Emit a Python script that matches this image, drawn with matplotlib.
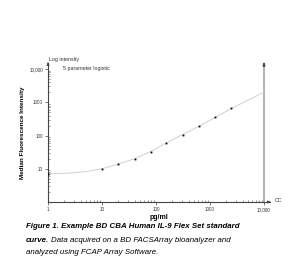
import numpy as np
import matplotlib.pyplot as plt
from matplotlib.ticker import FixedLocator, LogLocator, NullFormatter

# standards (pg/ml) and median fluorescence
conc = [1, 10, 20, 40, 80, 156, 312, 625, 1250, 2500]
mfi = [7.0, 10.0, 14.0, 20.0, 33.0, 61.0, 107.0, 188.0, 350.0, 660.0]

# 5PL fit curve, read at a few positions
curve_x = [1, 2, 3, 5, 10, 20, 40, 80, 156, 312, 625, 1250, 2500, 5000, 10000]
curve_y = [7.2, 7.3, 7.6, 8.2, 10.0, 13.8, 20.0, 33.0, 60.0, 107.0, 190.0, 350.0, 650.0, 1150.0, 2000.0]

ytick_vals = [10, 100, 1000, 10000]
ytick_labels = ["10", "100", "1000", "10,000"]
xtick_vals = [1, 10, 100, 1000, 10000]
xtick_labels = ["1", "10", "100", "1000", "10,000"]

plt.rcParams['font.family'] = ['Liberation Sans', 'DejaVu Sans']

fig = plt.figure(figsize=(2.9, 2.65), dpi=100)
ax = fig.add_axes([48/290, 1-202/265, (270-48)/290, (202-63)/265])

x_top = 10**(4 + 6/54)
y_top = 10**(4 + 6/33)
ax.set_xscale("log")
ax.set_yscale("log")
ax.set_xlim(1, x_top)
ax.set_ylim(1, y_top)

ax.plot(curve_x, curve_y, color="#d0d0d0", lw=0.7, zorder=2)
ax.plot(conc, mfi, "s", color="black", ms=1.3, mew=0, zorder=3)

# right gray border at 10,000
ax.plot([10000, 10000], [1, y_top*0.93], color="#b4b4b4", lw=1.5, zorder=1, clip_on=False)
ax.annotate("", xy=(10000, y_top), xytext=(10000, y_top*0.8),
            arrowprops=dict(arrowstyle="-|>", color="#333333", lw=0.6,
                            mutation_scale=4), annotation_clip=False)

for s in ["top", "right"]:
    ax.spines[s].set_visible(False)
for s in ["left", "bottom"]:
    ax.spines[s].set_color("#444444")
    ax.spines[s].set_linewidth(0.8)

# axis arrows
ax.annotate("", xy=(1, y_top*1.05), xytext=(1, y_top*0.8),
            arrowprops=dict(arrowstyle="-|>", color="#444444", lw=0.6,
                            mutation_scale=4), annotation_clip=False)
ax.annotate("", xy=(x_top*1.03, 1), xytext=(x_top*0.85, 1),
            arrowprops=dict(arrowstyle="-|>", color="#444444", lw=0.6,
                            mutation_scale=4), annotation_clip=False)

ax.yaxis.set_major_locator(FixedLocator(ytick_vals))
ax.set_yticklabels(ytick_labels)
ax.xaxis.set_major_locator(FixedLocator(xtick_vals))
ax.set_xticklabels(xtick_labels)
ax.yaxis.set_minor_locator(LogLocator(base=10, subs=np.arange(2, 10)))
ax.xaxis.set_minor_locator(LogLocator(base=10, subs=np.arange(2, 10)))
ax.xaxis.set_minor_formatter(NullFormatter())
ax.yaxis.set_minor_formatter(NullFormatter())
ax.tick_params(which="major", direction="out", length=2, width=0.5,
               color="#444444", labelsize=3.3, labelcolor="#333333", pad=1.5)
ax.tick_params(which="minor", direction="in", length=1.5, width=0.4, color="#444444")

ax.set_ylabel("Median Fluorescence Intensity", fontsize=4.6, fontweight="bold", labelpad=3)
ax.set_xlabel("pg/ml", fontsize=5, fontweight="bold", labelpad=1.5)

fig.text(49/290, 1-60/265, "Log intensity", fontsize=3.8, color="#333333", va="center")
fig.text(63/290, 1-69/265, "5 parameter logistic", fontsize=3.8, color="#333333", va="center")
fig.text(275/290, 1-201/265, "CC", fontsize=3.8, color="#333333", va="center")

cap = dict(fontsize=5.7, style="italic", va="center")
fig.text(26/290, 1-227/265, "Figure 1. Example BD CBA Human IL-9 Flex Set standard",
         fontweight="bold", **cap)
t = fig.text(26/290, 1-240/265, "curve.", fontweight="bold", **cap)
fig.canvas.draw()
bb = t.get_window_extent()
fig.text((bb.x1 + 2)/290, 1-240/265, "Data acquired on a BD FACSArray bioanalyzer and", **cap)
fig.text(26/290, 1-252/265, "analyzed using FCAP Array Software.", **cap)

fig.savefig("out.png", dpi=100)
